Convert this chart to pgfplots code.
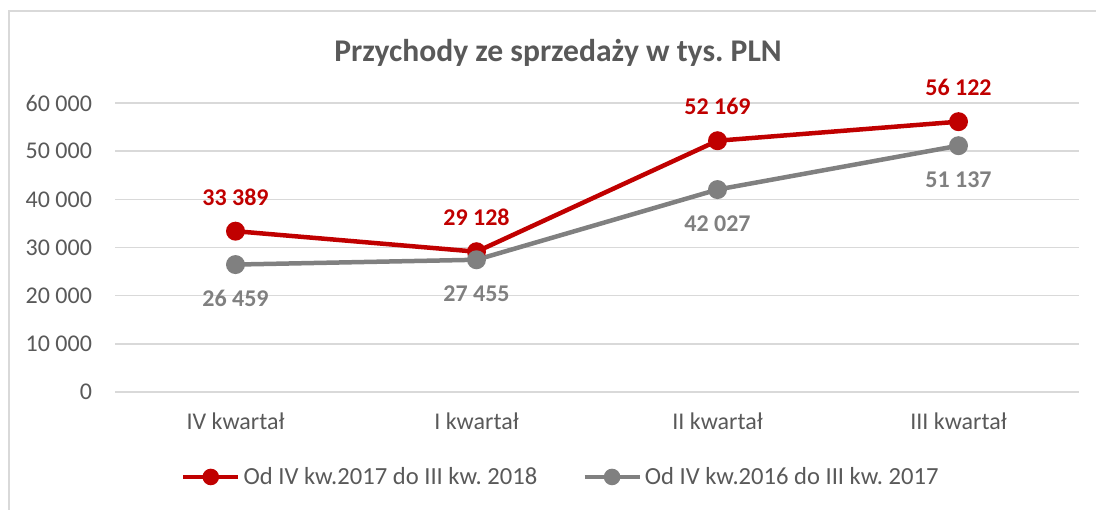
\documentclass[border=0pt]{standalone}
\usepackage{fontspec}
\setmainfont{Carlito}
\usepackage{pgfplots}
\pgfplotsset{compat=1.18}
\definecolor{cred}{HTML}{C00000}
\definecolor{cgray}{HTML}{808080}
\definecolor{ctext}{HTML}{595959}
\definecolor{cgrid}{HTML}{D9D9D9}
\frenchspacing
\begin{document}
\begin{tikzpicture}
\path[use as bounding box] (-57.5pt,-58.5pt) rectangle (490.5pt,196pt);
\draw[cgrid, line width=0.8pt] (-53pt,-60pt) -- (-53pt,190.5pt) -- (492pt,190.5pt);
\begin{axis}[
  at={(0,0)}, anchor=south west,
  scale only axis, width=482pt, height=144.5pt,
  xmin=-0.5, xmax=3.5, ymin=0, ymax=60000,
  xtick={0,1,2,3}, xticklabels={IV kwartał, I kwartał, II kwartał, III kwartał},
  ytick={0,10000,...,60000},
  scaled y ticks=false,
  /pgf/number format/.cd, 1000 sep={\ }, assume math mode=true, /pgfplots/.cd,
  axis line style={draw=none},
  major tick length=0pt,
  ymajorgrids, grid style={cgrid, line width=0.75pt},
  tick label style={font=\fontsize{12}{14}\selectfont, text=ctext},
  yticklabel style={xshift=-8pt},
  xticklabel style={yshift=-7pt},
  clip=false,
  legend style={at={(0.463,-0.294)}, anchor=center, draw=none, fill=none,
    font=\fontsize{12.3}{14}\selectfont, text=ctext,
    /tikz/every even column/.append style={column sep=21pt},
    nodes={inner xsep=1.5pt}},
  legend columns=2,
  legend image code/.code={\draw[mark repeat=2, mark phase=2, #1, mark size=3pt] plot coordinates {(0pt,0pt) (13.75pt,0pt) (27.5pt,0pt)};},
]
\addplot[cred, line width=2.25pt, mark=*, mark size=3.6pt, mark options={solid},
  nodes near coords,
  every node near coord/.append style={font=\bfseries\fontsize{12}{14}\selectfont, text=cred, anchor=center, yshift=17pt}]
  coordinates {(0,33389) (1,29128) (2,52169) (3,56122)};
\addlegendentry{Od IV kw.2017 do III kw. 2018}
\addplot[cgray, line width=2.25pt, mark=*, mark size=3.6pt, mark options={solid},
  nodes near coords,
  every node near coord/.append style={font=\bfseries\fontsize{12}{14}\selectfont, text=cgray, anchor=center, yshift=-17pt}]
  coordinates {(0,26459) (1,27455) (2,42027) (3,51137)};
\addlegendentry{Od IV kw.2016 do III kw. 2017}
\end{axis}
\node[font=\bfseries\fontsize{15.8}{19}\selectfont, text=ctext] at (221.5pt,169.5pt) {Przychody ze sprzedaży w tys. PLN};
\end{tikzpicture}
\end{document}
